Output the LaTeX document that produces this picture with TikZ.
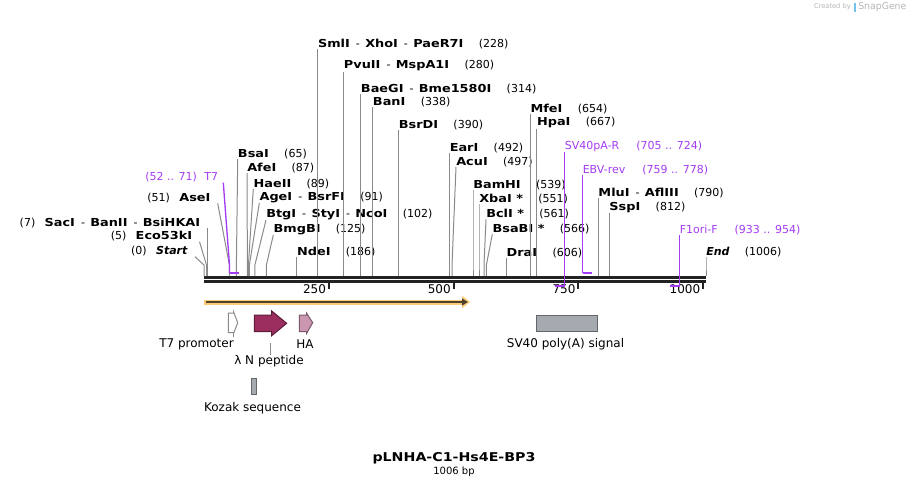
\documentclass[tikz,border=0pt]{standalone}
\usepackage{fontspec}
\setmainfont{DejaVu Sans}[BoldFeatures={FakeStretch=1.17}]
\usepackage{tikz}
\usetikzlibrary{arrows.meta, calc}
\definecolor{CutGray}{HTML}{8A8A8A}
\definecolor{PrimerViolet}{HTML}{A33CF2}
\definecolor{BackboneInk}{HTML}{222222}
\definecolor{OrfGlow}{HTML}{FCCB74}
\definecolor{OrfInk}{HTML}{4F4330}
\definecolor{PeptideRed}{HTML}{9B2E5F}
\definecolor{TagPink}{HTML}{CB96B0}
\definecolor{SignalGray}{HTML}{A5AAB0}
\definecolor{MarkGray}{HTML}{B5B5B5}
\definecolor{LogoBlue}{HTML}{72C4EE}

\newcommand{\dsh}{\mdseries\hspace{4.5pt}-\hspace{4pt}\bfseries}
\newcommand{\numgap}{\hspace{11.5pt}}
\newcommand{\fsz}[1]{\fontsize{#1}{#1}\selectfont}

\begin{document}
\begin{tikzpicture}[x=0.75pt, y=-0.75pt,
    enzlabel/.style={inner sep=0pt, font=\fsz{8.25pt}},
    cutline/.style={CutGray, line width=0.75pt},
    primerlabel/.style={inner sep=0pt, text=PrimerViolet, font=\fsz{8.25pt}},
    primerline/.style={PrimerViolet, line width=1pt},
    primerhook/.style={PrimerViolet, line width=1.5pt},
    featlabel/.style={inner sep=0pt, font=\fsz{9pt}}]
  \useasboundingbox (0,0) rectangle (910,489);

  % watermark
  \node[inner sep=0pt, text=MarkGray, font=\fsz{5pt}, anchor=east] (made) at (851,7) {Created by};
  \fill[LogoBlue] (853.5,3) rectangle (856,12);
  \node[inner sep=0pt, text=MarkGray, font=\fsz{7pt}, anchor=west] (brand) at (858,7) {SnapGene};

  % backbone
  \coordinate (bbL) at (204,277.3);
  \coordinate (bbR) at (706,277.3);
  \draw[BackboneInk, line width=2.25pt] (bbL) -- (bbR);
  \draw[BackboneInk, line width=1.9pt] ($(bbL)+(0,4)$) -- ($(bbR)+(0,4)$);

  % scale
  \foreach \t in {250,500,750,1000} {
    \coordinate (tick\t) at ({204+0.499*\t},282);
    \draw[BackboneInk, line width=1.5pt] (tick\t) -- ++(0,7);
    \node[featlabel, anchor=east] (num\t) at ($(tick\t)+(-2.5,7)$) {\t};
  }

  % enzymes, label to the right
  \foreach \n/\sx/\lx/\ly/\txt/\pos in {
      bsa/236.4/237.7/159/BsaI/65,
      afe/247.4/247/173/AfeI/87,
      hae/248.4/253.3/189/HaeII/89,
      age/249.4/259.3/203/{AgeI\dsh BsrFI}/91,
      btg/254.9/266/220/{BtgI\dsh StyI\dsh NcoI}/102,
      bmg/266.4/273.3/235/BmgBI/125,
      nde/296.8/296.8/257/NdeI/186,
      sml/317.8/317.8/49/{SmlI\dsh XhoI\dsh PaeR7I}/228,
      pvu/343.7/343.7/71.5/{PvuII\dsh MspA1I}/280,
      bae/360.7/360.7/94/{BaeGI\dsh Bme1580I}/314,
      ban/372.7/372.7/107/BanI/338,
      bsr/398.6/398.6/130/BsrDI/390,
      ear/449.5/449.5/153/EarI/492,
      acu/452/456/167/AcuI/497,
      bam/473/473/190/BamHI/539,
      xba/479/479/204/{XbaI *}/551,
      bcl/484/486/219.3/{BclI *}/561,
      bsab/486.4/492.3/234.3/{BsaBI *}/566,
      dra/506.4/506.4/258/DraI/606,
      mfe/530.3/530.3/114.3/MfeI/654,
      hpa/536.8/536.8/128.5/HpaI/667,
      mlu/598.2/598.2/198.3/{MluI\dsh AflIII}/790,
      ssp/609.2/609.2/213.3/SspI/812,
      fin/706/706/257/{\textit{End}}/1006} {
    \node[enzlabel, anchor=south west] (\n) at (\lx,\ly) {\textbf{\txt}\numgap(\pos)};
    \coordinate (\n cut) at (\sx,276);
    \draw[cutline] (\n.south west) -- ($(\n cut)+(0,-11)$) -- (\n cut);
  }

  % enzymes, label to the left
  \foreach \n/\sx/\lx/\ly/\txt/\pos in {
      start/204/195/256.7/{\textit{Start}}/0,
      eco/206.5/199.5/241.7/Eco53kI/5,
      sac/207.5/207.5/228.3/{SacI\dsh BanII\dsh BsiHKAI}/7,
      ase/229.4/217.7/203.3/AseI/51} {
    \node[enzlabel, anchor=south east, inner xsep=5.25pt] (\n) at (\lx,\ly) {(\pos)\hspace{7pt}\textbf{\txt}};
    \coordinate (\n cut) at (\sx,276);
    \draw[cutline] (\n.south east) -- ($(\n cut)+(0,-11)$) -- (\n cut);
  }

  % primers
  \node[primerlabel, anchor=south east, inner xsep=3.75pt] (t7p) at (223.3,182.7) {(52 .. 71)\hspace{5.5pt}T7};
  \coordinate (t7bind) at (229.5,273);
  \draw[primerline] (t7p.south east) -- ($(t7bind)+(0,-8)$) -- (t7bind);
  \draw[primerhook] (t7bind) -- ++(9.5,0);

  \node[primerlabel, anchor=south west] (svp) at (564.7,152) {SV40pA-R\hspace{12.75pt}(705 .. 724)};
  \coordinate (svbind) at (564.7,286);
  \draw[primerline] (svp.south west) -- (svbind);
  \draw[primerhook] (svbind) -- ++(-9.5,0);

  \node[primerlabel, anchor=south west] (ebvp) at (582.5,175) {EBV-rev\hspace{12.75pt}(759 .. 778)};
  \coordinate (ebvbind) at (582.5,273);
  \draw[primerline] (ebvp.south west) -- (ebvbind);
  \draw[primerhook] (ebvbind) -- ++(9.5,0);

  \node[primerlabel, anchor=south west] (f1p) at (679.5,235) {F1ori-F\hspace{12.75pt}(933 .. 954)};
  \coordinate (f1bind) at (679.5,286);
  \draw[primerline] (f1p.south west) -- (f1bind);
  \draw[primerhook] (f1bind) -- ++(-10,0);

  % open reading frame
  \coordinate (orfA) at (204,302);
  \coordinate (orfB) at (470,302);
  \draw[OrfGlow, line width=3.75pt, -{Triangle[length=6pt, width=9pt]}] (orfA) -- (orfB);
  \draw[OrfInk, line width=1.5pt, -{Triangle[length=4.5pt, width=5pt]}] ($(orfA)+(2,0)$) -- ($(orfB)+(-2,0)$);

  % features
  \draw[CutGray, fill=white, line width=0.75pt]
    (228.3,313) -- (233.5,313) -- (233.5,311.7) -- (237.7,322.7) -- (233.5,333.7) -- (233.5,332.5) -- (228.3,332.5) -- cycle;
  \draw[PeptideRed!60!black, fill=PeptideRed, line width=0.75pt]
    (254.3,315) -- (271.7,315) -- (271.7,311) -- (286.7,323.3) -- (271.7,335.7) -- (271.7,331.7) -- (254.3,331.7) -- cycle;
  \draw[TagPink!60!black, fill=TagPink, line width=0.75pt]
    (299.3,315) -- (306.5,315) -- (306.5,313) -- (312.7,322.7) -- (306.5,333.5) -- (306.5,331.7) -- (299.3,331.7) -- cycle;
  \draw[SignalGray!60!black, fill=SignalGray, line width=0.75pt] (536,315) rectangle (597.3,331.7);
  \draw[SignalGray!60!black, fill=SignalGray, line width=0.75pt] (251,378.3) rectangle (256,394.3);

  \node[featlabel] (t7prom) at (196.5,344.5) {T7 promoter};
  \node[featlabel] (ha) at (305,344.5) {HA};
  \node[featlabel] (svsig) at (565.5,344.5) {SV40 poly(A) signal};
  \node[featlabel] (lambdan) at (269,361) {λ N peptide};
  \node[featlabel] (kozak) at (252.5,408.3) {Kozak sequence};
  \coordinate (t7foot) at (233.3,332.5);
  \draw[CutGray, line width=0.75pt] (t7foot) -- ++(0,4);
  \coordinate (lambdafoot) at (270.7,342.7);
  \draw[CutGray, line width=0.75pt] (lambdafoot) -- (lambdafoot |- lambdan.north);

  % title
  \node[inner sep=0pt, font=\fsz{9.1pt}\bfseries] (title) at (454,458.5) {pLNHA-C1-Hs4E-BP3};
  \node[inner sep=0pt, font=\fsz{7.5pt}] (size) at (454,472) {1006 bp};
\end{tikzpicture}
\end{document}
